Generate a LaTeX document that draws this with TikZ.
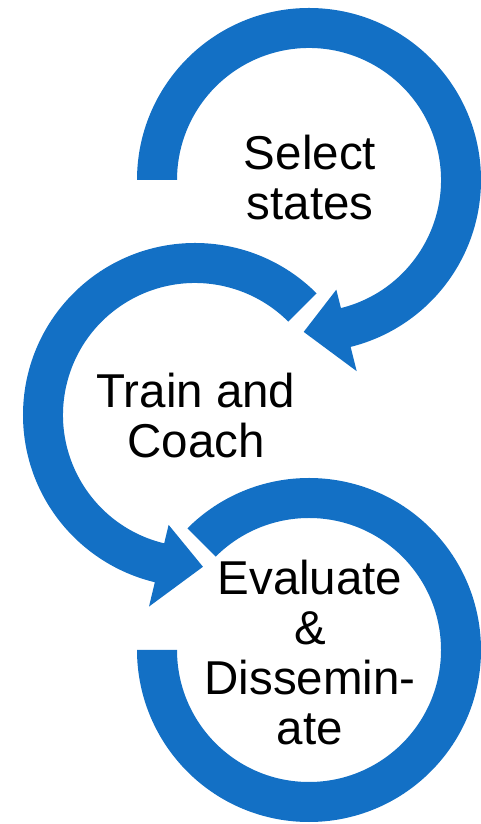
\documentclass[tikz,border=0pt]{standalone}
\usepackage{fontspec}
\setmainfont{Liberation Sans}
\usetikzlibrary{calc}
\definecolor{ringblue}{RGB}{19,112,197}
\tikzset{
		ring arrow/.style={fill=ringblue, draw=none},
		step label/.style={align=center, font=\fontsize{47.5}{50}\selectfont, inner sep=0pt}
	}

\begin{document}
\begin{tikzpicture}[x=1pt, y=1pt]
	\useasboundingbox (0,0) rectangle (481,824);
	\coordinate (c1) at (309,644);
	\coordinate (c2) at (195,409);
	\coordinate (c3) at (309,174);
	\fill[ring arrow, shift={(c1)}] (180:172pt) arc[start angle=180, end angle=-76, radius=172pt]
		-- (-76:197pt) -- (-92:152pt) -- (-76:113pt) -- (-76:132pt)
		arc[start angle=-76, end angle=180, radius=132pt] -- cycle;
	\fill[ring arrow, shift={(c2)}] (45:172pt) arc[start angle=45, end angle=256.5, radius=172pt]
		-- (256.5:197pt) -- (273:152pt) -- (256.5:113pt) -- (256.5:132pt)
		arc[start angle=256.5, end angle=45, radius=132pt] -- cycle;
	\fill[ring arrow, shift={(c3)}] (135:172pt) arc[start angle=135, end angle=-180, radius=172pt]
		-- (180:132pt) arc[start angle=-180, end angle=135, radius=132pt] -- cycle;
	\node[step label] (sel)   at (310,646) {Select\\states};
	\node[step label] (train) at (196,408) {Train and\\Coach};
	\node[step label] (eval)  at (310,171) {Evaluate\\\&\\Dissemin-\\ate};
\end{tikzpicture}
\end{document}
